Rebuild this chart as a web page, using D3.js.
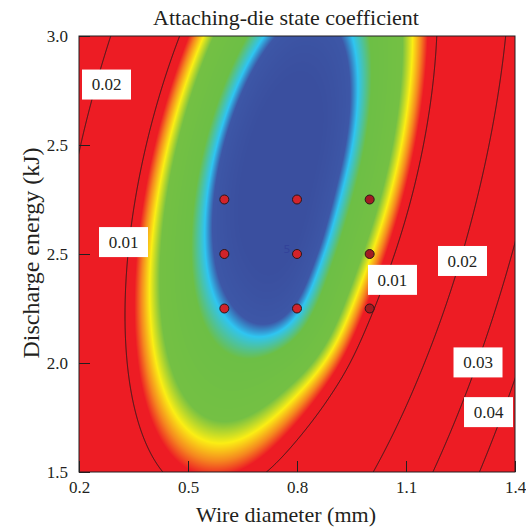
<!DOCTYPE html>
<html>
<head>
<meta charset="utf-8">
<script src="https://cdn.jsdelivr.net/npm/d3@7"></script>
<style>
body { margin: 0; background: #fff; }
svg text { font-family: "Liberation Serif", "Times New Roman", serif; }
</style>
</head>
<body>
<svg id="chart" width="526" height="527"></svg>
<script>
// grid of the response surface, columns = wire diameter (mm), rows = discharge energy
const gridX = [0.2, 0.4, 0.6, 0.8, 1.0, 1.2, 1.4]
const gridY = [1.5, 1.75, 2.0, 2.25, 2.5, 2.75, 3.0]
// attaching-die state coefficient (row per gridY, bottom to top)
const gridValues = [
    [0.01700, 0.01057, 0.00885, 0.01182, 0.01950, 0.03187, 0.04894],
    [0.01594, 0.00850, 0.00577, 0.00774, 0.01440, 0.02577, 0.04183],
    [0.01590, 0.00746, 0.00372, 0.00390, 0.01033, 0.02069, 0.03575],
    [0.01689, 0.00744, 0.00269, 0.00220, 0.00729, 0.01664, 0.03069],
    [0.01891, 0.00845, 0.00269, 0.00164, 0.00528, 0.01362, 0.02666],
    [0.02195, 0.01049, 0.00372, 0.00166, 0.00429, 0.01162, 0.02365],
    [0.02603, 0.01355, 0.00578, 0.00270, 0.00433, 0.01065, 0.02168]
]

const xTicks = [0.2, 0.5, 0.8, 1.1, 1.4]
const xTickLabels = ["0.2", "0.5", "0.8", "1.1", "1.4"]
const yTicks = [1.5, 1.875, 2.25, 2.625, 3.0]
const yTickLabels = ["1.5", "2.0", "2.5", "2.5", "3.0"]

const contourLevels = [0.01, 0.02, 0.03, 0.04]
const contourLabels = [
    {text: "0.02", x: 0.2757, y: 2.833},
    {text: "0.01", x: 0.3225, y: 2.291},
    {text: "0.01", x: 1.0628, y: 2.161},
    {text: "0.02", x: 1.2555, y: 2.226},
    {text: "0.03", x: 1.2982, y: 1.877},
    {text: "0.04", x: 1.3271, y: 1.706}
]

// design points
const designX = [0.6, 0.8, 1.0]
const designY = [2.0625, 2.25, 2.4375]

const svg = d3.select("#chart")
const plotLeft = 79, plotTop = 36, plotSize = 436

const x = d3.scaleLinear().domain([0.2, 1.4]).range([plotLeft, plotLeft + plotSize])
const y = d3.scaleLinear().domain([1.5, 3.0]).range([plotTop + plotSize, plotTop])

const color = d3.scaleLinear()
    .domain([0.0020, 0.0031, 0.0035, 0.0043, 0.0066, 0.0075, 0.0083, 0.0090])
    .range(["#3a4f9f", "#3d57a7", "#2fc5f1", "#6dbf45", "#74c044", "#fbee14", "#f5861f", "#ed1c24"])
    .clamp(true)

// cubic convolution (Keys) over the grid, ends extended the same way
function at(r, c){
    const n = gridX.length, m = gridY.length
    if(c < 0) return 3 * at(r, 0) - 3 * at(r, 1) + at(r, 2)
    if(c >= n) return 3 * at(r, n - 1) - 3 * at(r, n - 2) + at(r, n - 3)
    if(r < 0) return 3 * at(0, c) - 3 * at(1, c) + at(2, c)
    if(r >= m) return 3 * at(m - 1, c) - 3 * at(m - 2, c) + at(m - 3, c)
    return gridValues[r][c]
}

function weights(t){
    const t2 = t * t, t3 = t2 * t
    return [(-t3 + 2 * t2 - t) / 2, (3 * t3 - 5 * t2 + 2) / 2, (-3 * t3 + 4 * t2 + t) / 2, (t3 - t2) / 2]
}

function sample(xv, yv){
    const gx = (xv - gridX[0]) / (gridX[1] - gridX[0])
    const gy = (yv - gridY[0]) / (gridY[1] - gridY[0])
    const i0 = Math.max(0, Math.min(gridX.length - 2, Math.floor(gx)))
    const j0 = Math.max(0, Math.min(gridY.length - 2, Math.floor(gy)))
    const wx = weights(gx - i0), wy = weights(gy - j0)
    let v = 0
    for(let a = 0; a < 4; a++){
        for(let b = 0; b < 4; b++){
            v += wy[a] * wx[b] * at(j0 - 1 + a, i0 - 1 + b)
        }
    }
    return v
}

// field on pixel centres, padded so contour rings close outside the frame
const pad = 4
const fw = plotSize + 2 * pad, fh = plotSize + 2 * pad
const field = new Float64Array(fw * fh)
for(let j = 0; j < fh; j++){
    for(let i = 0; i < fw; i++){
        field[j * fw + i] = sample(x.invert(plotLeft - pad + i + 0.5), y.invert(plotTop - pad + j + 0.5))
    }
}

const canvas = document.createElement("canvas")
canvas.width = plotSize
canvas.height = plotSize
const ctx = canvas.getContext("2d")
const img = ctx.createImageData(plotSize, plotSize)
for(let j = 0; j < plotSize; j++){
    for(let i = 0; i < plotSize; i++){
        const c = d3.rgb(color(field[(j + pad) * fw + i + pad]))
        const k = (j * plotSize + i) * 4
        img.data[k] = c.r
        img.data[k + 1] = c.g
        img.data[k + 2] = c.b
        img.data[k + 3] = 255
    }
}
ctx.putImageData(img, 0, 0)

svg.append("image")
    .attr("x", plotLeft)
    .attr("y", plotTop)
    .attr("width", plotSize)
    .attr("height", plotSize)
    .attr("href", canvas.toDataURL())

svg.append("clipPath").attr("id", "plotClip")
    .append("rect")
    .attr("x", plotLeft).attr("y", plotTop)
    .attr("width", plotSize).attr("height", plotSize)

const contours = d3.contours().size([fw, fh]).thresholds(contourLevels)(field)

svg.append("g")
    .attr("clip-path", "url(#plotClip)")
    .append("g")
    .attr("transform", `translate(${plotLeft - pad},${plotTop - pad})`)
    .selectAll("path")
    .data(contours)
    .join("path")
    .attr("d", d3.geoPath())
    .attr("fill", "none")
    .attr("stroke", "#1e1a1a")
    .attr("stroke-width", 0.9)

// frame
svg.append("rect")
    .attr("x", plotLeft).attr("y", plotTop)
    .attr("width", plotSize).attr("height", plotSize)
    .attr("fill", "none")
    .attr("stroke", "#231f20")
    .attr("stroke-width", 1)

const xAxis = svg.append("g")
    .attr("transform", `translate(0,${plotTop + plotSize})`)
    .call(d3.axisBottom(x).tickValues(xTicks).tickSize(-11).tickPadding(9)
        .tickFormat((d, i) => xTickLabels[i]))

const yAxis = svg.append("g")
    .attr("transform", `translate(${plotLeft},0)`)
    .call(d3.axisLeft(y).tickValues(yTicks).tickSize(-11).tickPadding(11)
        .tickFormat((d, i) => yTickLabels[i]))

for(const axis of [xAxis, yAxis]){
    axis.select(".domain").remove()
    axis.selectAll("line").attr("stroke", "#231f20")
    axis.selectAll("text")
        .attr("font-family", "Liberation Serif, serif")
        .attr("font-size", 17)
        .attr("fill", "#231f20")
}

// design points
const points = []
for(const yv of designY){
    for(const xv of designX){
        points.push({x: xv, y: yv})
    }
}

svg.append("g")
    .selectAll("circle")
    .data(points)
    .join("circle")
    .attr("cx", d => x(d.x))
    .attr("cy", d => y(d.y))
    .attr("r", 4.5)
    .attr("fill", d => d.x === 1.0 ? "#a11c22" : "#d2232a")
    .attr("stroke", "#2a1719")
    .attr("stroke-width", 1)

svg.append("text")
    .attr("x", x(0.7725))
    .attr("y", y(2.252))
    .attr("text-anchor", "middle")
    .attr("font-size", 11)
    .style("font-family", "DejaVu Sans, sans-serif")
    .attr("fill", "#33439a")
    .text("5")

// contour labels
const labelG = svg.append("g")
    .selectAll("g")
    .data(contourLabels)
    .join("g")
    .attr("transform", d => `translate(${x(d.x)},${y(d.y)})`)

labelG.append("rect")
    .attr("x", -24.5).attr("y", -15)
    .attr("width", 49).attr("height", 30)
    .attr("fill", "#fff")

labelG.append("text")
    .attr("text-anchor", "middle")
    .attr("dy", "0.35em")
    .attr("font-size", 17)
    .attr("fill", "#231f20")
    .text(d => d.text)

svg.append("text")
    .attr("x", 286).attr("y", 25)
    .attr("text-anchor", "middle")
    .attr("font-size", 22)
    .attr("fill", "#231f20")
    .text("Attaching-die state coefficient")

svg.append("text")
    .attr("x", 286).attr("y", 522)
    .attr("text-anchor", "middle")
    .attr("font-size", 22)
    .attr("fill", "#231f20")
    .text("Wire diameter (mm)")

svg.append("text")
    .attr("transform", "translate(39,253) rotate(-90)")
    .attr("text-anchor", "middle")
    .attr("font-size", 24)
    .attr("fill", "#231f20")
    .text("Discharge energy (kJ)")
</script>
</body>
</html>
